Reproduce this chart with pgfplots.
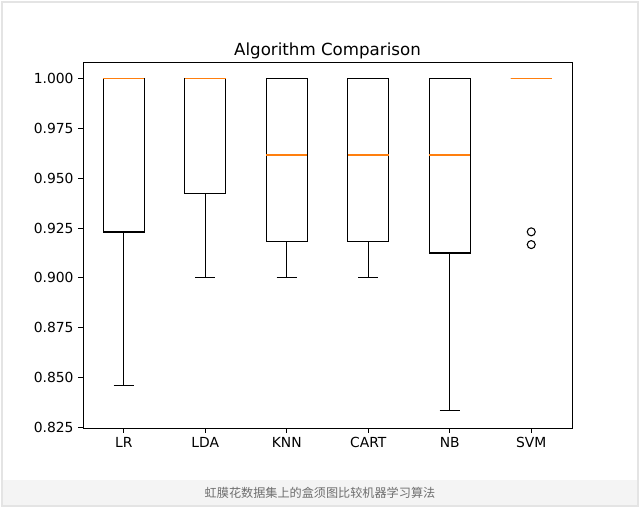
\documentclass[border=0pt]{standalone}
\usepackage{pgfplots}
\pgfplotsset{compat=1.18}
\usepgfplotslibrary{statistics}
\usepackage{fontspec}
\setmainfont{DejaVu Sans}
\newfontfamily\cjk{Noto Sans CJK SC}
\definecolor{mplorange}{HTML}{FF7F0E}
\definecolor{bandgray}{HTML}{F4F4F4}
\definecolor{bordergray}{HTML}{E4E4E4}
\definecolor{captiongray}{HTML}{6E6E6E}
\pgfplotsset{
  mybox/.style={black, line width=0.9bp,
    boxplot/draw direction=y,
    boxplot/box extend=0.5,
    boxplot/whisker extend=0.25,
    boxplot/draw/median/.code={%
      \draw[draw=mplorange, line width=1.4bp]
        (boxplot box cs:\pgfplotsboxplotvalue{median},0) --
        (boxplot box cs:\pgfplotsboxplotvalue{median},1);
    }},
}
\begin{document}
\begin{tikzpicture}
\fill[white] (0bp,0bp) rectangle (480bp,381.75bp);
\fill[bandgray] (2.25bp,3bp) rectangle (477.75bp,21.75bp);
\draw[bordergray, line width=0.8bp] (1.5bp,2.25bp) rectangle (478.5bp,380.25bp);
\node[text=captiongray, font=\cjk\fontsize{9.1bp}{11bp}\selectfont] at (240bp,12bp) {虹膜花数据集上的盒须图比较机器学习算法};
\begin{axis}[
  at={(62.25bp,60.75bp)}, anchor=south west,
  scale only axis, width=366.75bp, height=274.5bp,
  xmin=0.5, xmax=6.5, ymin=0.8247, ymax=1.0083,
  xtick={1,2,3,4,5,6},
  xticklabels={LR,LDA,KNN,CART,NB,SVM},
  ytick={0.825,0.850,0.875,0.900,0.925,0.950,0.975,1.000},
  yticklabel style={/pgf/number format/fixed, /pgf/number format/fixed zerofill, /pgf/number format/precision=3},
  /pgf/number format/assume math mode=true,
  tick align=outside, tick pos=left,
  major tick length=3.6bp,
  tick style={black, line width=0.6bp},
  axis line style={black, line width=0.6bp},
  font=\fontsize{10.4bp}{12bp}\selectfont,
  title={Algorithm Comparison},
  title style={font=\fontsize{12.5bp}{15bp}\selectfont, yshift=-7.5bp},
]
\addplot[mybox, boxplot prepared={draw position=1, median=1.0, upper quartile=1.0, lower quartile=0.923, upper whisker=1.0, lower whisker=0.846}] coordinates {};
\addplot[mybox, boxplot prepared={draw position=2, median=1.0, upper quartile=1.0, lower quartile=0.9423, upper whisker=1.0, lower whisker=0.900}] coordinates {};
\addplot[mybox, boxplot prepared={draw position=3, median=0.9615, upper quartile=1.0, lower quartile=0.9183, upper whisker=1.0, lower whisker=0.900}] coordinates {};
\addplot[mybox, boxplot prepared={draw position=4, median=0.9615, upper quartile=1.0, lower quartile=0.9183, upper whisker=1.0, lower whisker=0.900}] coordinates {};
\addplot[mybox, boxplot prepared={draw position=5, median=0.9615, upper quartile=1.0, lower quartile=0.9125, upper whisker=1.0, lower whisker=0.8333}] coordinates {};
\addplot[mybox, mark=o, mark size=3bp, mark options={black, line width=0.8bp}, boxplot prepared={draw position=6, median=1.0, upper quartile=1.0, lower quartile=1.0, upper whisker=1.0, lower whisker=1.0}] coordinates {(0,0.9231) (0,0.9167)};
\end{axis}
\end{tikzpicture}
\end{document}
